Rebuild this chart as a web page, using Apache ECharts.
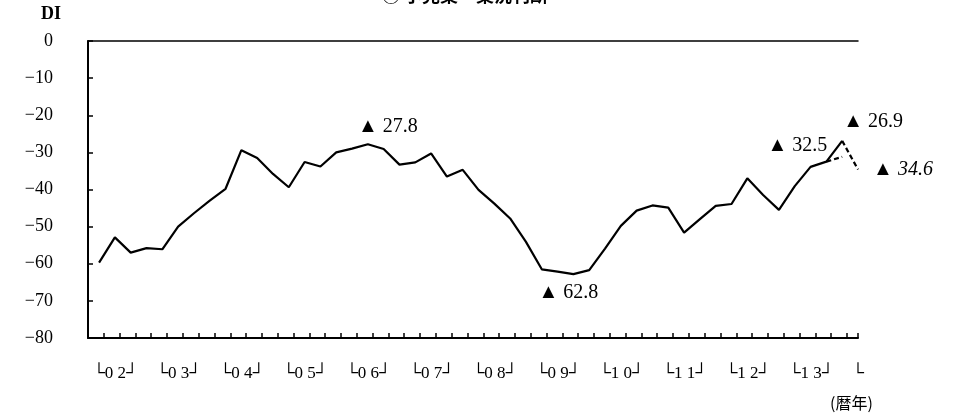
<!DOCTYPE html>
<html>
<head>
<meta charset="utf-8">
<script src="https://cdn.jsdelivr.net/npm/echarts@6/dist/echarts.min.js"></script>
<style>
  html, body { margin: 0; padding: 0; background: #fff; }
  #chart { width: 956px; height: 418px; }
</style>
</head>
<body>
<div id="chart"></div>
<script>
// ---- data ----
const years = ['02','03','04','05','06','07','08','09','10','11','12','13'];
// quarterly DI, 2002 Q1 .. 2013 Q4
const actualDI = [
  -59.7, -52.9, -57.0, -55.8,
  -56.1, -50.0, -46.4, -43.0,
  -39.8, -29.4, -31.5, -35.8,
  -39.4, -32.6, -33.8, -30.0,
  -29.0, -27.8, -29.1, -33.3,
  -32.7, -30.3, -36.5, -34.7,
  -40.1, -43.8, -47.8, -54.1,
  -61.5, -62.1, -62.8, -61.7,
  -55.9, -49.8, -45.7, -44.3,
  -44.9, -51.6, -48.0, -44.4,
  -43.9, -37.0, -41.5, -45.5,
  -39.1, -33.9, -32.5, -26.9
];
const priorForecastLastQ = -31.2;   // earlier outlook for 2013 Q4
const outlookNextQ = -34.6;         // outlook for 2014 Q1
const yTicks = { min: -80, max: 0, step: 10 };
const annotatedIdx = [17, 30, 46, 47]; // points carrying a ▲ label

// ---- build ----
const n = actualDI.length;
const actualData = actualDI.map((v, i) => [i, v]);
const dashPrior = [[n - 2, actualDI[n - 2]], [n - 1, priorForecastLastQ]];
const dashOutlook = [[n - 1, actualDI[n - 1]], [n, outlookNextQ]];

const serif = '"Liberation Serif", "DejaVu Serif", "Noto Sans CJK JP", serif';
const fmtTri = v => '▲ ' + Math.abs(v).toFixed(1);

const labelOffsets = { 17: [20, -17], 30: [-5, 19], 46: [-29, -16], 47: [31, -19] };

const chart = echarts.init(document.getElementById('chart'), null, { renderer: 'canvas' });
const xMin = -0.7, xMax = n;
const labelShift = 0.4; // year label starts slightly before the year's first quarter

chart.setOption({
  animation: false,
  backgroundColor: '#fff',
  grid: { left: 88, right: 98, top: 41, bottom: 80, containLabel: false },
  graphic: [
    { type: 'text', left: 382, top: -14,
      style: { text: '③ 小売業　業況判断', font: 'bold 18px "Noto Sans CJK JP"', fill: '#000' } },
    { type: 'text', left: 41, top: 5,
      style: { text: 'DI', font: 'bold 18px ' + serif, fill: '#000' } },
    { type: 'text', left: 830, top: 395,
      style: { text: '(暦年)', font: '16px "Noto Sans CJK JP"', fill: '#000' } }
  ],
  xAxis: [
    { type: 'value', min: xMin, max: xMax, interval: 1,
      axisLine: { show: true, onZero: false, lineStyle: { color: '#000', width: 2 } },
      axisTick: { show: true, inside: true, length: 5, lineStyle: { color: '#000', width: 1.5 } },
      axisLabel: { show: false }, splitLine: { show: false } },
    { type: 'value', min: xMin, max: xMax, interval: 0.1, position: 'bottom',
      axisLine: { show: false, onZero: false }, axisTick: { show: false }, splitLine: { show: false },
      axisLabel: { show: true, align: 'left', margin: 27, color: '#000',
        showMinLabel: true, showMaxLabel: true, hideOverlap: false,
        fontFamily: serif, fontSize: 17,
        formatter: v => {
          const r = Math.round((v + labelShift) * 10) / 10;
          if (r < 0) return '';
          const k = r / 4;
          if (Math.abs(k - Math.round(k)) > 1e-6) return '';
          if (Math.round(k) >= years.length) return '└';
          const y = years[Math.round(k)];
          return '└' + y[0] + ' ' + y[1] + '┘';
        } } },
    { type: 'value', min: xMin, max: xMax, position: 'top',
      axisLine: { show: true, onZero: false, lineStyle: { color: '#000', width: 1.5 } },
      axisTick: { show: false }, axisLabel: { show: false }, splitLine: { show: false } }
  ],
  yAxis: {
    type: 'value', min: yTicks.min, max: yTicks.max, interval: yTicks.step,
    axisLine: { show: true, onZero: false, lineStyle: { color: '#000', width: 2 } },
    axisTick: { show: true, inside: true, length: 5, lineStyle: { color: '#000', width: 1.5 } },
    splitLine: { show: false },
    axisLabel: { margin: 35, color: '#000', fontFamily: serif, fontSize: 18,
      formatter: v => String(v).replace('-', '−') }
  },
  series: [
    { type: 'line', xAxisIndex: 0, data: actualData, showSymbol: false, symbol: 'none',
      lineStyle: { color: '#000', width: 2.2 }, z: 3,
      markPoint: {
        symbol: 'circle', symbolSize: 1, itemStyle: { color: 'rgba(0,0,0,0)' },
        label: { show: true, position: 'inside', color: '#000', fontFamily: serif, fontSize: 20 },
        data: annotatedIdx.map(i => ({
          coord: [i, actualDI[i]],
          label: { formatter: fmtTri(actualDI[i]), offset: labelOffsets[i] }
        }))
      } },
    { type: 'line', xAxisIndex: 0, data: dashPrior, showSymbol: false, symbol: 'none',
      lineStyle: { color: '#000', width: 2.2, type: [5, 3] }, z: 2 },
    { type: 'line', xAxisIndex: 0, data: dashOutlook, showSymbol: false, symbol: 'none',
      lineStyle: { color: '#000', width: 2.2, type: [5, 3] }, z: 2,
      markPoint: {
        symbol: 'circle', symbolSize: 1, itemStyle: { color: 'rgba(0,0,0,0)' },
        label: { show: true, position: 'inside', color: '#000', fontFamily: serif, fontSize: 20,
          formatter: '▲ {i|' + Math.abs(outlookNextQ).toFixed(1) + '}',
          rich: { i: { fontStyle: 'italic', fontFamily: serif, fontSize: 20, color: '#000' } },
          offset: [45, 0] },
        data: [{ coord: [n, outlookNextQ] }]
      } }
  ]
});
</script>
</body>
</html>
